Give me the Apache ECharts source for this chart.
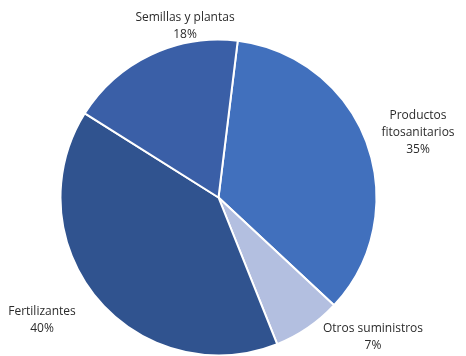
<!DOCTYPE html>
<html>
<head>
<meta charset="utf-8">
<script src="https://cdn.jsdelivr.net/npm/echarts@6/dist/echarts.min.js"></script>
<style>
  html, body { margin: 0; padding: 0; background: #fff; }
  #chart { width: 466px; height: 356px; }
</style>
</head>
<body>
<div id="chart"></div>
<script>
// ---- Data ----
const categories = ["Productos\nfitosanitarios", "Otros suministros", "Fertilizantes", "Semillas y plantas"];
const shares = [35, 7, 40, 18];
const colors = ["#4170bd", "#b3bfe0", "#30538f", "#3a5fa7"];

// label anchor points (centre of text block), in px
const labelPos = [[418, 133], [373, 337], [42, 320], [185, 26]];

const chart = echarts.init(document.getElementById("chart"));
chart.setOption({
    animation: false,
    series: [{
        type: "pie",
        center: [218.5, 197.5],
        radius: 158,
        startAngle: 83,
        clockwise: true,
        data: categories.map((name, i) => ({
            name,
            value: shares[i],
            itemStyle: { color: colors[i] }
        })),
        itemStyle: { borderColor: "#fff", borderWidth: 2 },
        label: {
            show: true,
            position: "outside",
            formatter: "{b}\n{c}%",
            color: "#2b2b2b",
            fontFamily: "Open Sans",
            fontSize: 12,
            lineHeight: 17,
            align: "center",
            overflow: "none"
        },
        labelLine: { show: false },
        labelLayout: function (p) {
            const pt = labelPos[p.dataIndex];
            return { x: pt[0], y: pt[1], align: "center", verticalAlign: "middle" };
        }
    }]
});
</script>
</body>
</html>
